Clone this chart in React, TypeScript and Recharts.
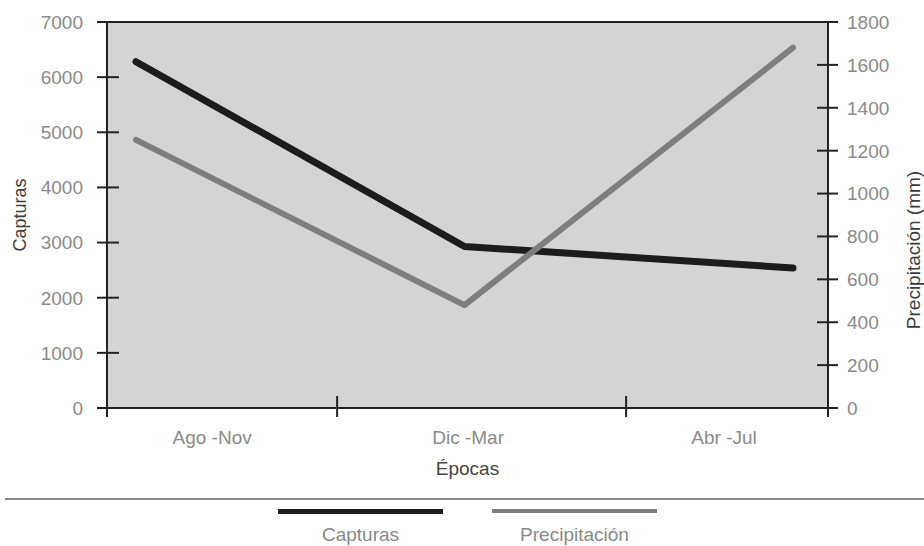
import React from 'react';
import { LineChart, Line, XAxis, YAxis, CartesianGrid, ReferenceLine, Legend } from 'recharts';

const categories = ['Ago -Nov', 'Dic -Mar', 'Abr -Jul'];
const capturas = [6280, 2930, 2540];
const precipitacion = [1250, 480, 1680];
// month (0 = start of Ago) at which each season begins
const mesInicio = [0, 4, 8];
const capturasTicks = [0, 1000, 2000, 3000, 4000, 5000, 6000, 7000];
const precipTicks = [0, 200, 400, 600, 800, 1000, 1200, 1400, 1600, 1800];
// season scale of 12 months (Ago..Jul); separator marks and label centres
const epocaSeparators = [0, 3.83, 8.64, 12];
const epocaLabelPos = [1.75, 6.01, 10.27];
const epocaTicks = [...epocaSeparators, ...epocaLabelPos].sort((a, b) => a - b);

const data = categories.map((c, i) => ({
  epoca: c,
  mesInicio: mesInicio[i],
  capturas: capturas[i],
  precipitacion: precipitacion[i],
}));

const FONT = "'Liberation Sans', Arial, sans-serif";
const FS = 19;
const AXIS = '#222';
const TICK_TEXT = '#8a8a8a';
const TITLE = '#3c3c3c';

const LeftTick = (props: any) => {
  const { x, y, payload } = props;
  return (
    <g>
      <line x1={x - 10} x2={x + 12} y1={y} y2={y} stroke={AXIS} strokeWidth={2} />
      <text x={x - 24} y={y} dy="0.36em" textAnchor="end" fill={TICK_TEXT} fontSize={FS} fontFamily={FONT}>
        {payload.value}
      </text>
    </g>
  );
};

const RightTick = (props: any) => {
  const { x, y, payload } = props;
  return (
    <g>
      <line x1={x - 11} x2={x + 10} y1={y} y2={y} stroke={AXIS} strokeWidth={2} />
      <text x={x + 19} y={y} dy="0.36em" textAnchor="start" fill={TICK_TEXT} fontSize={FS} fontFamily={FONT}>
        {payload.value}
      </text>
    </g>
  );
};

const EpocaTick = (props: any) => {
  const { x, y, payload } = props;
  const v = payload.value;
  if (epocaSeparators.includes(v)) {
    return <line x1={x} x2={x} y1={y - 12} y2={y + 9} stroke={AXIS} strokeWidth={2} />;
  }
  const idx = epocaLabelPos.indexOf(v);
  return (
    <text x={x} y={y + 29} dy="0.36em" textAnchor="middle" fill={TICK_TEXT} fontSize={FS} fontFamily={FONT}>
      {categories[idx]}
    </text>
  );
};

const legendBarHeights = [5, 4];

const LegendContent = (props: any) => {
  const payload = props.payload || [];
  return (
    <div style={{ position: 'relative', width: 924, height: 58, fontFamily: FONT }}>
      <div style={{ position: 'absolute', left: 5, right: 0, top: 10, borderTop: '2px solid #8c8c8c' }} />
      <div
        style={{
          position: 'absolute',
          top: 21,
          left: 0,
          width: 924,
          display: 'flex',
          justifyContent: 'center',
          gap: 49,
          paddingLeft: 11,
          boxSizing: 'border-box',
        }}
      >
        {payload.map((p: any, i: number) => (
          <div key={i} style={{ width: 165, display: 'flex', flexDirection: 'column', alignItems: 'center' }}>
            <div style={{ width: 165, height: legendBarHeights[i] || 5, background: p.color }} />
            <div style={{ marginTop: 9 + (5 - (legendBarHeights[i] || 5)), fontSize: FS, lineHeight: '24px', color: '#888' }}>
              {p.value}
            </div>
          </div>
        ))}
      </div>
    </div>
  );
};

export default function App() {
  return (
    <div style={{ position: 'absolute', left: 0, top: 0, width: 924, height: 546, background: '#fff', fontFamily: FONT }}>
      <LineChart width={924} height={546} data={data} margin={{ top: 22, right: 0, bottom: 0, left: 0 }}>
        <CartesianGrid xAxisId="ep" yAxisId="left" horizontal={false} vertical={false} fill="#d4d4d4" stroke="none" />
        <XAxis xAxisId="data" dataKey="epoca" hide height={0} padding={{ left: 29, right: 35 }} />
        <XAxis
          xAxisId="ep"
          dataKey="mesInicio"
          type="number"
          domain={[0, 12]}
          ticks={epocaTicks}
          interval={0}
          height={80}
          tickSize={0}
          tickMargin={0}
          tickLine={false}
          tick={<EpocaTick />}
          axisLine={{ stroke: AXIS, strokeWidth: 2 }}
          allowDataOverflow
          label={{
            content: (p: any) => {
              const vb = p.viewBox || {};
              return (
                <text x={vb.x + vb.width / 2} y={vb.y + 60} dy="0.36em" textAnchor="middle" fill="#444" fontSize={FS} fontFamily={FONT}>
                  Épocas
                </text>
              );
            },
          }}
        />
        <YAxis
          yAxisId="left"
          domain={[0, 7000]}
          ticks={capturasTicks}
          interval={0}
          width={107}
          tickSize={0}
          tickMargin={0}
          tickLine={false}
          tick={<LeftTick />}
          axisLine={{ stroke: AXIS, strokeWidth: 2 }}
          label={{
            content: (p: any) => {
              const vb = p.viewBox || {};
              const cy = vb.y + vb.height / 2;
              return (
                <text x={20} y={cy} dy="0.36em" textAnchor="middle" transform={`rotate(-90, 20, ${cy})`} fill={TITLE} fontSize={18} fontFamily={FONT}>
                  Capturas
                </text>
              );
            },
          }}
        />
        <YAxis
          yAxisId="right"
          orientation="right"
          domain={[0, 1800]}
          ticks={precipTicks}
          interval={0}
          width={96}
          tickSize={0}
          tickMargin={0}
          tickLine={false}
          tick={<RightTick />}
          axisLine={{ stroke: AXIS, strokeWidth: 2 }}
          label={{
            content: (p: any) => {
              const vb = p.viewBox || {};
              const cx = vb.x + vb.width - 11;
              const cy = vb.y + vb.height / 2 + 35;
              return (
                <text x={cx} y={cy} dy="0.36em" textAnchor="middle" transform={`rotate(-90, ${cx}, ${cy})`} fill={TITLE} fontSize={FS} fontFamily={FONT}>
                  Precipitación (mm)
                </text>
              );
            },
          }}
        />
        <ReferenceLine xAxisId="ep" yAxisId="left" y={7000} stroke={AXIS} strokeWidth={2} />
        <Line
          xAxisId="data"
          yAxisId="left"
          dataKey="capturas"
          name="Capturas"
          stroke="#1c1c1c"
          strokeWidth={7}
          strokeLinecap="round"
          strokeLinejoin="round"
          dot={false}
          activeDot={false}
          isAnimationActive={false}
        />
        <Line
          xAxisId="data"
          yAxisId="right"
          dataKey="precipitacion"
          name="Precipitación"
          stroke="#7e7e7e"
          strokeWidth={6}
          strokeLinecap="round"
          strokeLinejoin="round"
          dot={false}
          activeDot={false}
          isAnimationActive={false}
        />
        <Legend verticalAlign="bottom" content={<LegendContent />} />
      </LineChart>
    </div>
  );
}
